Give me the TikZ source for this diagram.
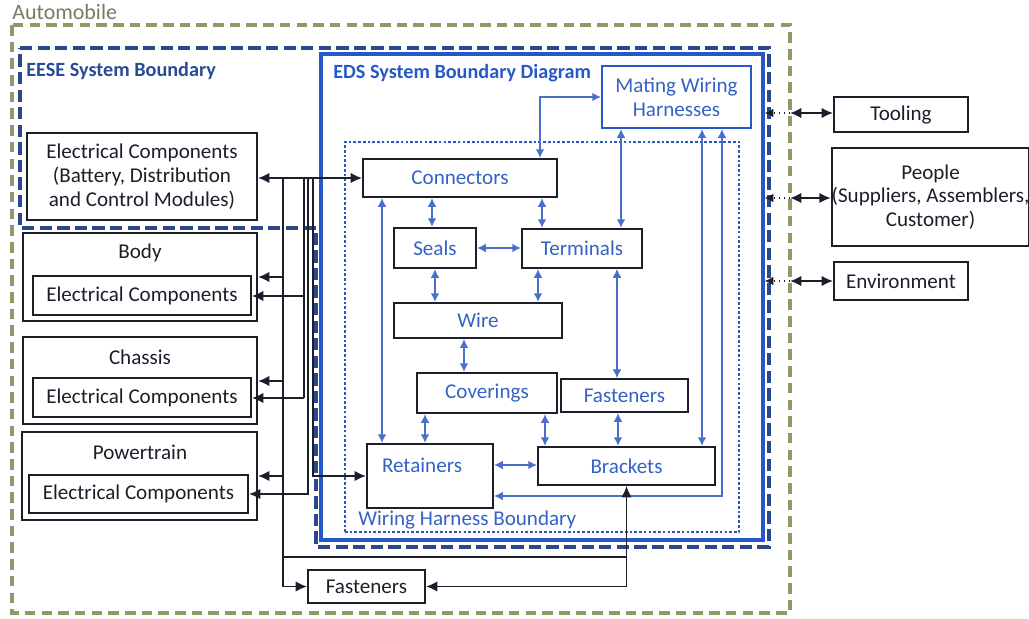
\documentclass[tikz,border=0pt]{standalone}
\usepackage{fontspec}
\setmainfont{Carlito}
\usetikzlibrary{arrows.meta}

\definecolor{autogreen}{RGB}{140,156,104}
\definecolor{autotext}{RGB}{112,126,102}
\definecolor{eesenavy}{RGB}{42,72,140}
\definecolor{edsblue}{RGB}{38,88,200}
\definecolor{partblue}{RGB}{52,98,196}
\definecolor{linkblue}{RGB}{72,112,202}
\definecolor{ink}{RGB}{28,30,42}

\tikzset{
  every node/.style={font=\fontsize{12}{13.5}\selectfont},
  % rectangle given by its corners (x1,y1,x2,y2) in picture units
  rect/.style n args={4}{minimum width={(#3-#1)*0.02cm}, minimum height={(#4-#2)*0.02cm},
    at={({(#1+#3)/2},{(#2+#4)/2})}},
  box/.style={draw=ink, line width=1.1pt, inner sep=0pt, align=center, text=ink},
  part/.style={box, text=partblue},
  title/.style={font=\fontsize{11.5}{13}\selectfont\bfseries, anchor=west, inner sep=0pt},
  blink/.style={draw=linkblue, line width=1pt,
    {Latex[length=5pt,width=5pt]}-{Latex[length=5pt,width=5pt]}},
  klink/.style={draw=ink, line width=1.1pt},
  ktip/.style={klink, -{Latex[length=6.5pt,width=6pt]}},
  kboth/.style={klink, {Latex[length=6.5pt,width=6pt]}-{Latex[length=6.5pt,width=6pt]}},
}

\begin{document}
\begin{tikzpicture}[x=0.02cm, y=-0.02cm]
\useasboundingbox (0,0) rectangle (1029,619);

% Automobile frame
\draw[autogreen, line width=2.2pt, dash pattern=on 6pt off 3.5pt] (12,25) rectangle (790,613);
\node[anchor=west, inner sep=0pt, text=autotext, font=\fontsize{12.5}{14}\selectfont] (autolbl) at (12,12) {Automobile};

% EESE boundary (L-shaped)
\draw[eesenavy, line width=2.3pt, dash pattern=on 7pt off 3pt]
  (20,48) -- (769,48) -- (769,547) -- (316,547) -- (316,228) -- (20,228) -- cycle;
\node[title, text=eesenavy!85!edsblue] (eeselbl) at (26,71) {EESE System Boundary};

% EDS boundary
\node[draw=edsblue, line width=1.8pt, inner sep=0pt, rect={321}{54}{763}{540}] (eds) {};
\node[title, text=edsblue] (edslbl) at (333,73) {EDS System Boundary Diagram};

% Wiring harness boundary
\node[draw=edsblue, line width=0.7pt, dash pattern=on 1.5pt off 1.2pt, inner sep=0pt, rect={345}{142}{739}{532}] (whb) {};
\node[anchor=west, inner sep=0pt, text=partblue] (whblbl) at (358,520) {Wiring Harness Boundary};

% Harness parts
\node[part, draw=edsblue, rect={602}{66}{751}{128}] (mat) {Mating Wiring\\Harnesses};
\node[part, rect={363}{159}{557}{197}] (conn) {Connectors};
\node[part, rect={394}{228}{476}{268}] (seal) {Seals};
\node[part, rect={522}{229}{642}{268}] (term) {Terminals};
\node[part, rect={394}{303}{562}{338}] (wire) {Wire};
\node[part, rect={417}{373}{557}{413}] (cov) {Coverings};
\node[part, rect={561}{379}{688}{412}] (fin) {Fasteners};
\node[part, rect={367}{444}{493}{508}] (ret) {};
\node[text=partblue, inner sep=0pt] (rettxt) at (422,465) {Retainers};
\node[part, rect={538}{447}{715}{485}] (brk) {Brackets};

% Vehicle electrical components
\node[box, rect={27}{133}{257}{220}] (ec) {Electrical Components\\(Battery, Distribution\\and Control Modules)};
\node[box, rect={23}{233}{257}{321}] (body) {};
\node[inner sep=0pt, text=ink] (bodytxt) at (140,253) {Body};
\node[box, rect={33}{276}{251}{315}] (bodyec) {Electrical Components};
\node[box, rect={23}{337}{257}{424}] (chas) {};
\node[inner sep=0pt, text=ink] (chastxt) at (140,357) {Chassis};
\node[box, rect={33}{378}{251}{417}] (chasec) {Electrical Components};
\node[box, rect={22}{432}{257}{520}] (pwr) {};
\node[inner sep=0pt, text=ink] (pwrtxt) at (140,452) {Powertrain};
\node[box, rect={29}{475}{248}{513}] (pwrec) {Electrical Components};
\node[box, rect={308}{570}{425}{603}] (fout) {Fasteners};

% External influences
\node[box, rect={834}{97}{968}{132}] (tool) {Tooling};
\node[box, rect={834}{148}{1027}{246}] (ppl) {People\\(Suppliers, Assemblers,\\Customer)};
\node[box, rect={834}{262}{968}{300}] (env) {Environment};

% Links inside the harness
\draw[blink] (conn.north -| 540,0) |- (mat.west);
\draw[blink] (mat.south -| 621,0) -- (term.north -| 621,0);
\draw[blink] (mat.south -| 702,0) -- (brk.north -| 702,0);
\draw[blink] (mat.south -| 722,0) |- (ret.east |- 0,496);
\draw[blink] (conn.south -| 432,0) -- (seal.north -| 432,0);
\draw[blink] (conn.south -| 542,0) -- (term.north -| 542,0);
\draw[blink] (conn.south -| 382,0) -- (ret.north -| 382,0);
\draw[blink] (seal.east) -- (term.west |- seal.east);
\draw[blink] (seal.south -| 435,0) -- (wire.north -| 435,0);
\draw[blink] (term.south -| 538,0) -- (wire.north -| 538,0);
\draw[blink, line width=0.6pt] (term.south -| 617,0) -- (fin.north -| 617,0);
\draw[blink] (wire.south -| 464,0) -- (cov.north -| 464,0);
\draw[blink] (cov.south -| 425,0) -- (ret.north -| 425,0);
\draw[blink] (cov.south -| 545,0) -- (brk.north -| 545,0);
\draw[blink] (fin.south -| 618,0) -- (brk.north -| 618,0);
\draw[blink] (ret.east |- 0,465) -- (brk.west |- 0,465);

% Vehicle side bus
\coordinate (busA) at (283,178);
\coordinate (busB) at (304,178);
\coordinate (busC) at (308,178);
\coordinate (busD) at (313,178);
\coordinate (busE) at (283,557);

\draw[kboth] (ec.east |- conn.west) -- (conn.west);
\draw[ktip] (busA) |- (fout.west);
\draw[ktip] (busA |- 0,277) -- (body.east |- 0,277);
\draw[ktip] (busA |- 0,381) -- (chas.east |- 0,381);
\draw[ktip] (busA |- 0,476) -- (pwr.east |- 0,476);
\draw[klink] (busB) -- (busB |- 0,398);
\draw[ktip] (busB |- 0,296) -- (bodyec.east |- 0,296);
\draw[ktip] (busB |- 0,398) -- (chasec.east |- 0,398);
\draw[ktip] (busC) |- (pwrec.east |- 0,494);
\draw[ktip] (busD) |- (ret.west |- 0,476);
\draw[klink] (busE) -- (busE -| brk.south);
\draw[kboth] (fout.east) -| (brk.south);

% External links
\foreach \n/\yy in {tool/113, ppl/198, env/281} {
  \coordinate (\n-g) at (790,\yy);
  \draw[klink, line width=0.8pt, dotted, -{Latex[length=5pt,width=5pt]}] (\n-g) -- (eds.east |- \n-g);
  \draw[kboth] (\n-g) -- (\n.west |- \n-g);
}
\end{tikzpicture}
\end{document}
